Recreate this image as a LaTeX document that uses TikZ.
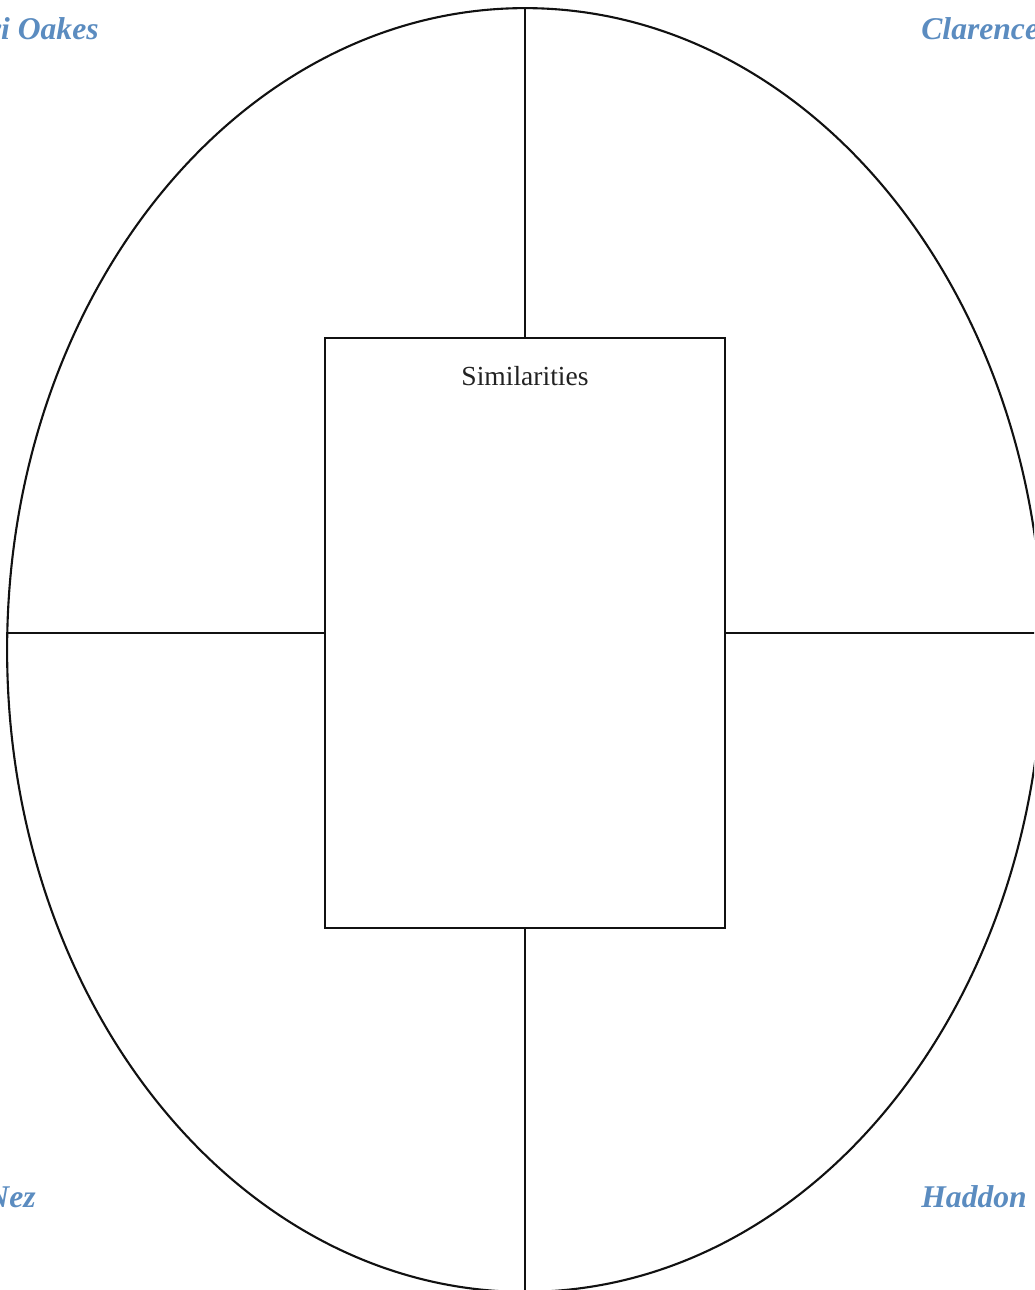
\documentclass[tikz,border=0pt]{standalone}
\usepackage{fontspec}
\setmainfont{Liberation Serif}
\usepackage{xcolor}
\usepackage{tikz}
\usetikzlibrary{calc,positioning,shapes.geometric}
\definecolor{ink}{HTML}{111111}
\definecolor{textgray}{HTML}{222222}
\definecolor{nameblue}{HTML}{5B8CC0}
\tikzset{frame/.style={draw=ink,line width=1.2pt},divider/.style={draw=ink,line width=1.2pt},namelabel/.style={inner sep=0pt,text=nameblue,font=\fontsize{18}{20}\selectfont\bfseries\itshape},simlabel/.style={inner sep=0pt,text=textgray,font=\fontsize{15.7}{18}\selectfont}}

\begin{document}
\begin{tikzpicture}[x=0.02cm,y=-0.02cm]
\useasboundingbox (0,0) rectangle (1034,1290);
\clip (0,0) rectangle (1034,1290);
\node[frame,ellipse,inner sep=0pt,outer sep=0pt,minimum width=20.72cm,minimum height=25.68cm] (oval) at (525,650) {};
\node[frame,rectangle,inner sep=0pt,outer sep=0pt,minimum width=8cm,minimum height=11.8cm] (sim) at (525,633) {};
\node[simlabel,anchor=base] (simtitle) at ($(sim.north)+(0,47)$) {Similarities};
\draw[divider] (sim.north)--(oval.north);\draw[divider] (sim.south)--(oval.south);
\draw[divider] (sim.west)--(sim.west -| oval.west);\draw[divider] (sim.east)--(sim.east -| oval.east);
\node[namelabel,anchor=base east] (topleft) at (99,40) {vi Oakes};
\node[namelabel,anchor=base west] (topright) at (921,40) {Clarence};
\node[namelabel,anchor=base east] (bottomleft) at (36,1207) {Nez};
\node[namelabel,anchor=base west] (bottomright) at (921,1207) {Haddon};
\end{tikzpicture}
\end{document}
